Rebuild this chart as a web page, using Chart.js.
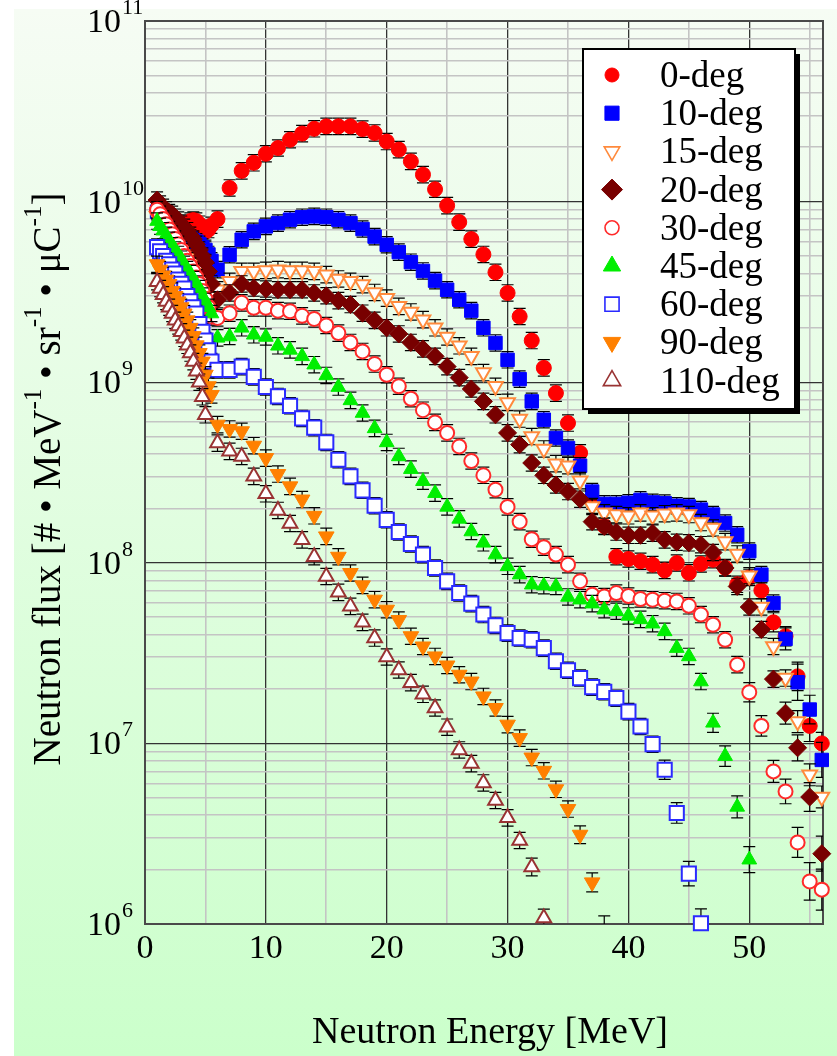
<!DOCTYPE html>
<html><head><meta charset="utf-8">
<script src="https://cdn.jsdelivr.net/npm/chart.js@4.4.0/dist/chart.umd.min.js"></script>
<style>html,body{margin:0;padding:0;background:#fff;}canvas{display:block;}</style>
</head><body>
<canvas id="c" width="837" height="1056"></canvas>
<script>
// ---------------- data ----------------
const seriesLabels = ['0-deg','10-deg','15-deg','20-deg','30-deg','45-deg','60-deg','90-deg','110-deg'];
const eLow  = [1.0,1.25,1.5,1.75,2.0,2.25,2.5,2.75,3.0,3.25,3.5,3.75,4.0,4.25,4.5,4.75,5.0,5.25,5.5];
const eHigh = [6,7,8,9,10,11,12,13,14,15,16,17,18,19,20,21,22,23,24,25,26,27,28,29,30,31,32,33,34,35,36,37,38,39,40,41,42,43,44,45,46,47,48,49,50,51,52,53,54,55,56];

const f0Low   = [9.0e9,8.7e9,8.4e9,8.1e9,7.9e9,7.7e9,7.5e9,7.4e9,7.4e9,7.5e9,7.6e9,7.8e9,7.9e9,7.8e9,7.5e9,7.1e9,6.8e9,7.0e9,7.4e9];
const f10Low  = [8.8e9,8.5e9,8.2e9,7.9e9,7.7e9,7.4e9,7.2e9,7.0e9,6.8e9,6.6e9,6.4e9,6.3e9,6.1e9,6.0e9,5.8e9,5.6e9,5.4e9,5.1e9,4.7e9];
const f15Low  = [8.3e9,7.8e9,7.4e9,7.0e9,6.6e9,6.3e9,6.0e9,5.7e9,5.4e9,5.1e9,4.9e9,4.6e9,4.4e9,4.2e9,4.0e9,3.7e9,3.5e9,3.3e9,3.1e9];
const f20Low  = [1.02e10,9.7e9,9.3e9,9.0e9,8.7e9,8.5e9,8.2e9,7.9e9,7.5e9,7.2e9,6.9e9,6.5e9,6.2e9,5.8e9,5.4e9,5.0e9,4.6e9,4.1e9,3.5e9];
const f30Low  = [9.0e9,8.5e9,8.0e9,7.5e9,7.0e9,6.6e9,6.2e9,5.8e9,5.4e9,5.0e9,4.7e9,4.4e9,4.1e9,3.8e9,3.5e9,3.2e9,2.9e9,2.6e9,2.3e9];
const f45Low  = [7.8e9,7.3e9,6.9e9,6.5e9,6.1e9,5.7e9,5.4e9,5.1e9,4.8e9,4.5e9,4.2e9,4.0e9,3.7e9,3.5e9,3.3e9,3.0e9,2.8e9,2.6e9,2.4e9];
const f60Low  = [5.6e9,5.3e9,5.0e9,4.7e9,4.5e9,4.2e9,4.0e9,3.7e9,3.5e9,3.3e9,3.0e9,2.8e9,2.6e9,2.4e9,2.1e9,1.9e9,1.7e9,1.5e9,1.3e9];
const f90Low  = [4.5e9,4.2e9,3.9e9,3.7e9,3.5e9,3.2e9,3.0e9,2.8e9,2.6e9,2.4e9,2.2e9,2.0e9,1.8e9,1.6e9,1.45e9,1.3e9,1.1e9,9.5e8,8.5e8];
const f110Low = [3.6e9,3.3e9,3.05e9,2.8e9,2.6e9,2.4e9,2.2e9,2.05e9,1.9e9,1.75e9,1.6e9,1.45e9,1.3e9,1.15e9,1.0e9,8.3e8,6.6e8];

const f0High = [8.0e9,1.19e10,1.48e10,1.64e10,1.84e10,1.98e10,2.2e10,2.38e10,2.53e10,2.61e10,2.61e10,2.61e10,2.52e10,2.4e10,2.15e10,1.94e10,1.67e10,1.41e10,1.17e10,9.5e9,7.7e9,6.2e9,5.1e9,4.06e9,3.12e9,2.31e9,1.70e9,1.2e9,8.7e8,5.94e8,4.06e8,2.2e8,1.6e8,1.08e8,1.05e8,1.02e8,9.77e7,9.08e7,9.97e7,8.8e7,9.85e7,1.04e8,9.4e7,7.6e7,8.3e7,7.03e7,4.68e7,3.92e7,2.35e7,1.25e7,1.0e7];
const f10High = [4.2e9,5.08e9,6.15e9,6.84e9,7.29e9,7.6e9,7.94e9,8.2e9,8.28e9,8.2e9,7.94e9,7.6e9,7.05e9,6.4e9,5.77e9,5.25e9,4.62e9,4.13e9,3.65e9,3.25e9,2.86e9,2.49e9,2.0e9,1.65e9,1.33e9,1.04e9,7.83e8,6.2e8,4.91e8,4.32e8,3.45e8,2.48e8,2.12e8,2.12e8,2.15e8,2.23e8,2.16e8,2.14e8,2.07e8,2.05e8,1.97e8,1.85e8,1.66e8,1.43e8,1.16e8,8.6e7,5.98e7,3.79e7,2.18e7,1.54e7,8.1e6];
const f15High = [3.25e9,3.62e9,4.11e9,4.11e9,4.16e9,4.2e9,4.16e9,4.16e9,4.11e9,3.94e9,3.73e9,3.62e9,3.47e9,3.14e9,2.92e9,2.63e9,2.45e9,2.22e9,2.0e9,1.78e9,1.59e9,1.39e9,1.13e9,9.5e8,7.73e8,6.25e8,5.0e8,4.27e8,3.54e8,3.45e8,2.85e8,2.05e8,1.89e8,1.85e8,1.82e8,1.89e8,1.82e8,1.87e8,1.89e8,1.85e8,1.67e8,1.56e8,1.31e8,1.12e8,8.48e7,5.69e7,3.44e7,2.3e7,1.32e7,6.7e6,5.05e6];
const f20High = [2.86e9,3.12e9,3.5e9,3.32e9,3.28e9,3.25e9,3.25e9,3.25e9,3.12e9,3.01e9,2.83e9,2.69e9,2.41e9,2.2e9,2.0e9,1.85e9,1.66e9,1.53e9,1.39e9,1.22e9,1.06e9,9.17e8,7.83e8,6.6e8,5.24e8,4.51e8,3.57e8,3.05e8,2.7e8,2.48e8,2.25e8,1.69e8,1.59e8,1.48e8,1.42e8,1.42e8,1.46e8,1.34e8,1.3e8,1.29e8,1.26e8,1.14e8,9.36e7,7.4e7,5.69e7,4.27e7,2.27e7,1.47e7,9.45e6,5.05e6,2.45e6];
const f30High = [2.27e9,2.41e9,2.75e9,2.58e9,2.58e9,2.49e9,2.47e9,2.33e9,2.24e9,2.06e9,1.87e9,1.66e9,1.48e9,1.26e9,1.1e9,9.5e8,8.1e8,7.0e8,5.99e8,5.24e8,4.41e8,3.66e8,3.05e8,2.54e8,2.04e8,1.69e8,1.35e8,1.22e8,1.11e8,9.77e7,7.9e7,6.66e7,6.5e7,6.8e7,6.55e7,6.3e7,6.25e7,6.17e7,6.11e7,5.78e7,5.17e7,4.54e7,3.75e7,2.73e7,1.92e7,1.25e7,7.0e6,5.42e6,2.83e6,1.72e6,1.55e6];
const f45High = [1.76e9,1.79e9,2.0e9,1.83e9,1.78e9,1.59e9,1.51e9,1.39e9,1.25e9,1.09e9,9.4e8,7.93e8,6.75e8,5.55e8,4.64e8,3.88e8,3.3e8,2.83e8,2.43e8,2.04e8,1.75e8,1.49e8,1.29e8,1.11e8,9.56e7,8.6e7,7.56e7,7.47e7,7.4e7,6.47e7,6.25e7,5.94e7,5.5e7,5.39e7,5.08e7,4.86e7,4.6e7,4.17e7,3.37e7,3.03e7,2.2e7,1.3e7,8.5e6,4.45e6,2.27e6];
const f60High = [1.17e9,1.17e9,1.22e9,1.07e9,9.4e8,8.34e8,7.4e8,6.3e8,5.6e8,4.64e8,3.72e8,3.01e8,2.52e8,2.07e8,1.73e8,1.48e8,1.27e8,1.11e8,9.36e7,7.89e7,6.8e7,5.94e7,5.17e7,4.5e7,4.08e7,3.83e7,3.75e7,3.37e7,2.85e7,2.54e7,2.3e7,2.05e7,1.93e7,1.78e7,1.5e7,1.24e7,9.9e6,7.15e6,4.12e6,1.9e6,1.01e6];
const f90High = [5.82e8,5.51e8,5.35e8,4.45e8,3.8e8,3.1e8,2.65e8,2.24e8,1.82e8,1.4e8,1.08e8,8.78e7,7.5e7,6.25e7,5.5e7,4.82e7,3.92e7,3.44e7,3.03e7,2.7e7,2.4e7,2.2e7,1.82e7,1.57e7,1.27e7,1.07e7,8.35e6,7.05e6,5.57e6,4.33e6,3.12e6,1.7e6,7.5e5];
const f110High = [4.6e8,4.14e8,3.88e8,3.01e8,2.41e8,1.95e8,1.65e8,1.34e8,1.08e8,8.4e7,6.86e7,5.74e7,4.68e7,3.83e7,3.01e7,2.55e7,2.17e7,1.87e7,1.57e7,1.23e7,9.2e6,7.73e6,6.04e6,4.83e6,3.87e6,2.9e6,2.07e6,1.08e6];

// relative error bars: common value, and larger ones at the spectrum tails [energy, rel]
const errCommon = 0.11;
const err0Tail   = [[52,0.13],[53,0.13],[54,0.2],[55,0.22],[56,0.15]];
const err10Tail  = [[53,0.15],[54,0.26],[55,0.2],[56,0.25]];
const err15Tail  = [[54,0.15],[55,0.15],[56,0.15]];
const err20Tail  = [[53,0.15],[54,0.18],[55,0.2],[56,0.25]];
const err30Tail  = [[50,0.13],[51,0.14],[52,0.15],[53,0.17],[54,0.21],[55,0.27],[56,0.3]];
const err45Tail  = [[47,0.13],[48,0.14],[49,0.15],[50,0.18]];
const err60Tail  = [[43,0.13],[44,0.14],[45,0.17],[46,0.2]];
const err90Tail  = [[36,0.12],[37,0.13],[38,0.48]];
const err110Tail = [[32,0.12],[33,0.12]];

const xTickValues = [0,10,20,30,40,50];
const yTickExponents = [6,7,8,9,10,11];
const xTitle = 'Neutron Energy [MeV]';

// ---------------- build ----------------
const lowSets  = [f0Low,f10Low,f15Low,f20Low,f30Low,f45Low,f60Low,f90Low,f110Low];
const highSets = [f0High,f10High,f15High,f20High,f30High,f45High,f60High,f90High,f110High];
const tailSets = [err0Tail,err10Tail,err15Tail,err20Tail,err30Tail,err45Tail,err60Tail,err90Tail,err110Tail];

const styles = [
  {ps:'circle',   rot:0,   r:7.5, fill:'#ff0000', stroke:'#ff0000', bw:1,   lr:7},
  {ps:'rect',     rot:0,   r:9.5, fill:'#0000ff', stroke:'#0000ff', bw:1,   lr:10},
  {ps:'triangle', rot:180, r:8.5, fill:'#ffffff', stroke:'#ff8a3c', bw:2,   lr:9},
  {ps:'rectRot',  rot:0,   r:9,   fill:'#780000', stroke:'#780000', bw:1,   lr:10.5},
  {ps:'circle',   rot:0,   r:7,   fill:'#ffffff', stroke:'#ff2a2a', bw:2,   lr:7},
  {ps:'triangle', rot:0,   r:8.5, fill:'#00ee00', stroke:'#00ee00', bw:1,   lr:10},
  {ps:'rect',     rot:0,   r:10,  fill:'#ffffff', stroke:'#2a2aff', bw:2,   lr:10},
  {ps:'triangle', rot:180, r:9,   fill:'#ff8000', stroke:'#ff8000', bw:1,   lr:10},
  {ps:'triangle', rot:0,   r:8.5, fill:'#ffffff', stroke:'#993333', bw:2,   lr:10}
];

const datasets = seriesLabels.map((lab, i) => {
  const pts = [], errs = [];
  lowSets[i].forEach((v, k) => { pts.push({x: eLow[k], y: v}); errs.push(errCommon); });
  highSets[i].forEach((v, k) => {
    const e = eHigh[k];
    const t = tailSets[i].find(a => a[0] === e);
    pts.push({x: e, y: v}); errs.push(t ? t[1] : errCommon);
  });
  const s = styles[i];
  return {
    label: lab, data: pts, errs: errs, showLine: false,
    pointStyle: s.ps, rotation: s.rot, pointRadius: s.r,
    backgroundColor: s.fill, borderColor: s.stroke, borderWidth: s.bw,
    order: 9 - i,
    clip: {left: 15, top: 15, right: 15, bottom: 12}
  };
});

const SERIF = '"Liberation Serif", "Times New Roman", serif';

const bgPlugin = {
  id: 'bg',
  beforeDraw(chart) {
    const ctx = chart.ctx;
    ctx.save();
    ctx.fillStyle = '#ffffff';
    ctx.fillRect(0, 0, chart.width, chart.height);
    const g = ctx.createLinearGradient(0, 9, 0, chart.height);
    g.addColorStop(0, '#f6fcf4');
    g.addColorStop(1, '#cbffcb');
    ctx.fillStyle = g;
    ctx.fillRect(14, 9, chart.width - 14, chart.height - 9);
    ctx.restore();
  }
};

const framePlugin = {
  id: 'frame',
  beforeDatasetsDraw(chart) {
    const ctx = chart.ctx, ca = chart.chartArea;
    ctx.save();
    ctx.strokeStyle = '#4a4a4a';
    ctx.lineWidth = 2;
    ctx.strokeRect(ca.left, ca.top, ca.right - ca.left, ca.bottom - ca.top);
    ctx.restore();
  }
};

const errorBarPlugin = {
  id: 'errorBars',
  beforeDatasetDraw(chart, args) {
    const i = args.index, meta = args.meta;
    const ds = chart.data.datasets[i];
    const ys = chart.scales.y, ca = chart.chartArea, ctx = chart.ctx;
    ctx.save();
    ctx.beginPath();
    ctx.rect(ca.left, ca.top, ca.right - ca.left, ca.bottom - ca.top);
    ctx.clip();
    ctx.strokeStyle = '#000';
    ctx.lineWidth = 1.2;
    ds.data.forEach((p, k) => {
      const el = meta.data[k];
      if (!el) return;
      const e = ds.errs[k];
      const x = el.x;
      const yu = ys.getPixelForValue(p.y * (1 + e));
      const yl = ys.getPixelForValue(p.y / (1 + e));
      ctx.beginPath();
      ctx.moveTo(x, yu); ctx.lineTo(x, yl);
      ctx.moveTo(x - 6, yu); ctx.lineTo(x + 6, yu);
      ctx.moveTo(x - 6, yl); ctx.lineTo(x + 6, yl);
      ctx.stroke();
    });
    ctx.restore();
  }
};

function drawMarker(ctx, s, x, y, r, bw) {
  ctx.save();
  ctx.fillStyle = s.fill; ctx.strokeStyle = s.stroke; ctx.lineWidth = bw;
  ctx.beginPath();
  if (s.ps === 'circle') {
    ctx.arc(x, y, r, 0, Math.PI * 2);
  } else if (s.ps === 'rect') {
    const h = r * Math.SQRT1_2;
    ctx.rect(x - h, y - h, 2 * h, 2 * h);
  } else if (s.ps === 'rectRot') {
    ctx.moveTo(x, y - r); ctx.lineTo(x + r, y); ctx.lineTo(x, y + r); ctx.lineTo(x - r, y); ctx.closePath();
  } else {
    const d = s.rot === 180 ? -1 : 1;
    const a = Math.PI * 2 / 3;
    ctx.moveTo(x, y - d * r);
    ctx.lineTo(x + Math.sin(a) * r, y - d * Math.cos(a) * r);
    ctx.lineTo(x - Math.sin(a) * r, y - d * Math.cos(a) * r);
    ctx.closePath();
  }
  ctx.fill(); ctx.stroke();
  ctx.restore();
}

const textPlugin = {
  id: 'texts',
  afterDraw(chart) {
    const ctx = chart.ctx, xs = chart.scales.x, ys = chart.scales.y;
    ctx.save();
    ctx.fillStyle = '#000';
    // x tick labels
    ctx.font = '34px ' + SERIF;
    ctx.textAlign = 'center';
    ctx.textBaseline = 'alphabetic';
    xTickValues.forEach(v => ctx.fillText(String(v), xs.getPixelForValue(v), 958));
    // y tick labels 10^n
    ctx.textAlign = 'left';
    yTickExponents.forEach(n => {
      const py = ys.getPixelForValue(Math.pow(10, n));
      ctx.font = '34px ' + SERIF;
      ctx.fillText('10', 87, py + 11);
      const w = ctx.measureText('10').width;
      ctx.font = '22px ' + SERIF;
      ctx.fillText(String(n), 87 + w + 1, py - 7);
    });
    // x title
    ctx.font = '38px ' + SERIF;
    ctx.textAlign = 'center';
    ctx.fillText(xTitle, 490, 1043);
    // y title with superscripts
    const runs = [['Neutron flux [# \u2022 MeV', 0], ['-1', 1], [' \u2022 sr', 0], ['-1', 1], [' \u2022 \u03bcC', 0], ['-1', 1], [']', 0]];
    const mainF = '39px ' + SERIF, supF = '25px ' + SERIF;
    let total = 0;
    runs.forEach(r => { ctx.font = r[1] ? supF : mainF; total += ctx.measureText(r[0]).width; });
    ctx.translate(60, 479);
    ctx.rotate(-Math.PI / 2);
    ctx.textAlign = 'left';
    let cx = -total / 2;
    runs.forEach(r => {
      ctx.font = r[1] ? supF : mainF;
      ctx.fillText(r[0], cx, r[1] ? -19 : 0);
      cx += ctx.measureText(r[0]).width;
    });
    ctx.restore();

    // legend
    ctx.save();
    ctx.fillStyle = '#000';
    ctx.fillRect(588, 54, 212, 360);
    ctx.fillStyle = '#fff';
    ctx.fillRect(583, 49, 212, 360);
    ctx.strokeStyle = '#000';
    ctx.lineWidth = 2;
    ctx.strokeRect(583, 49, 212, 360);
    seriesLabels.forEach((lab, i) => {
      const y = 75 + i * 38.2;
      const s = styles[i];
      drawMarker(ctx, s, 612, y, s.lr, s.bw > 1 ? 1.6 : 1);
      ctx.fillStyle = '#000';
      ctx.font = '37px ' + SERIF;
      ctx.textAlign = 'left';
      ctx.textBaseline = 'alphabetic';
      ctx.fillText(lab, 660, y + 12);
    });
    ctx.restore();
  }
};

const yTickVals = [];
yTickExponents.forEach(n => {
  for (let d = 1; d <= 9; d++) {
    const v = d * Math.pow(10, n);
    if (v <= 1e11 * 1.0001) yTickVals.push(v);
  }
});
const isMajorY = v => Math.abs(Math.log10(v) - Math.round(Math.log10(v))) < 1e-6;

new Chart(document.getElementById('c'), {
  type: 'scatter',
  data: { datasets },
  options: {
    responsive: false,
    devicePixelRatio: 1,
    animation: false,
    layout: { padding: { top: 21, right: 14, left: 0, bottom: 0 } },
    plugins: { legend: { display: false }, tooltip: { enabled: false } },
    scales: {
      x: {
        type: 'linear', min: 0, max: 56.1,
        afterBuildTicks: s => { s.ticks = [0,5,10,15,20,25,30,35,40,45,50,55].map(v => ({ value: v })); },
        afterFit: s => { s.height = 132; },
        ticks: { display: false, autoSkip: false },
        grid: {
          drawTicks: false,
          color: c => (c.tick && c.tick.value % 10 === 0) ? '#333333' : '#c4c4c4',
          lineWidth: c => (c.tick && c.tick.value % 10 === 0) ? 1.3 : 1.6
        },
        border: { display: true, color: '#4a4a4a', width: 2 }
      },
      y: {
        type: 'logarithmic', min: 1e6, max: 1e11,
        afterBuildTicks: s => { s.ticks = yTickVals.map(v => ({ value: v })); },
        afterFit: s => { s.width = 145; },
        ticks: { display: false, autoSkip: false },
        grid: {
          drawTicks: false,
          color: c => (c.tick && isMajorY(c.tick.value)) ? '#333333' : '#c4c4c4',
          lineWidth: c => (c.tick && isMajorY(c.tick.value)) ? 1.3 : 1.6
        },
        border: { display: true, color: '#4a4a4a', width: 2 }
      }
    }
  },
  plugins: [bgPlugin, framePlugin, errorBarPlugin, textPlugin]
});
</script>
</body></html>
